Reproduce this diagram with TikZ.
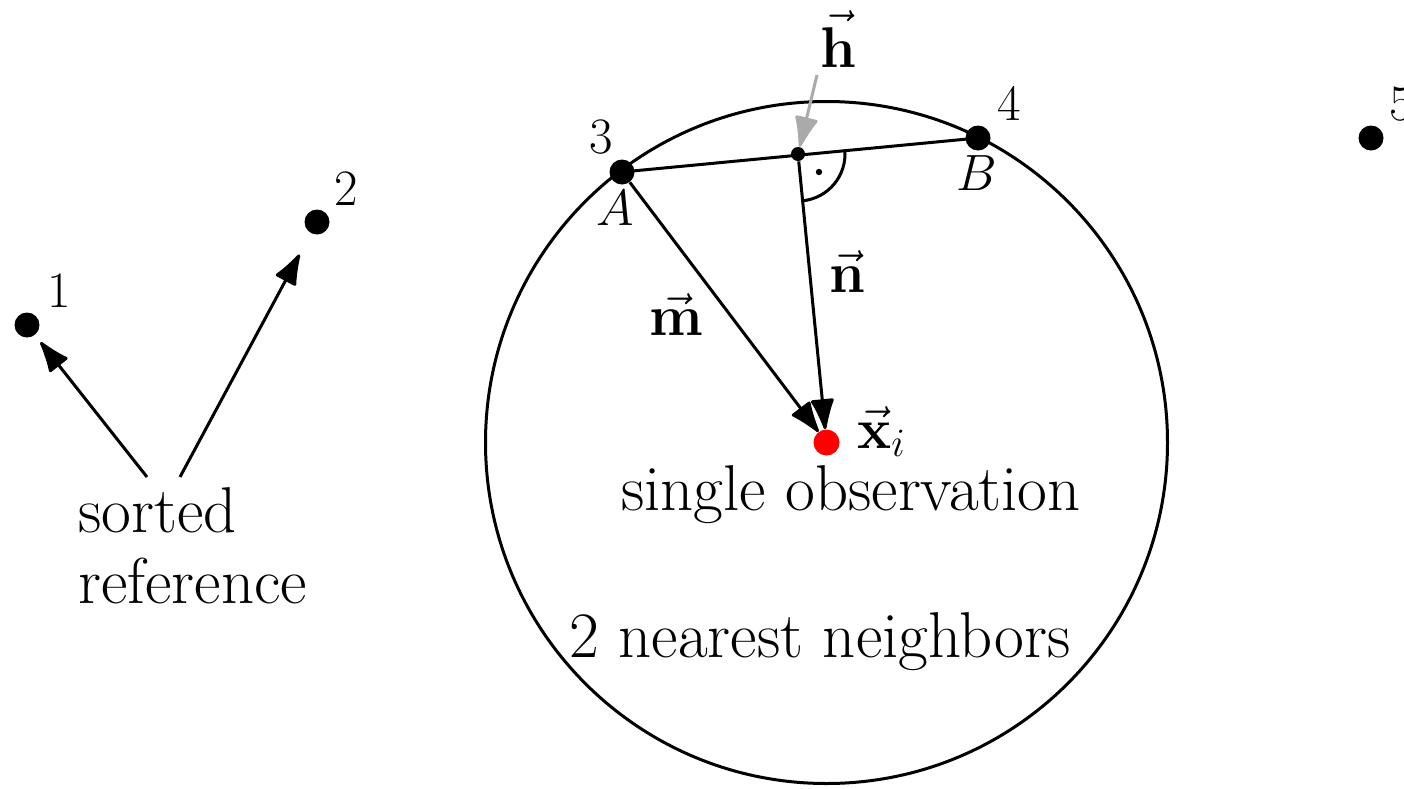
\documentclass[tikz,border=0pt]{standalone}
\usepackage{fix-cm}
\usepackage{amsmath}
\usetikzlibrary{arrows.meta,calc}
\definecolor{hgray}{RGB}{170,170,170}
\definecolor{obsred}{RGB}{255,0,0}
\newcommand{\mainsize}{\fontsize{32.4}{32.4}\selectfont}
\newcommand{\mathsize}{\fontsize{28.7}{28.7}\selectfont}
\newcommand{\labsize}{\fontsize{25.5}{25.5}\selectfont}
\tikzset{
  bigdot/.style={circle,fill=black,inner sep=0pt,minimum size=12.5pt},
  smalldot/.style={circle,fill=black,inner sep=0pt,minimum size=7pt},
  reddot/.style={circle,fill=obsred,inner sep=0pt,minimum size=13pt},
  numlab/.style={inner sep=0pt,anchor=base west,font=\labsize},
  txt/.style={inner sep=0pt,font=\mainsize},
  veclab/.style={inner sep=0pt,anchor=base west,font=\mathsize},
  vecarrow/.style={line width=1.5pt,-{Latex[length=17.5pt,width=12.5pt,round]}},
  thick line/.style={line width=1.5pt},
}
\begin{document}
\begin{tikzpicture}[x=0.5pt,y=-0.5pt]
\useasboundingbox (0,0) rectangle (1404,788);
% neighborhood circle
\draw[thick line] (826.5,442.5) circle[radius=170.5pt];
% points
\node[bigdot] (p1) at (27,325) {};
\node[bigdot] (p2) at (317,222) {};
\node[bigdot] (A) at (622,172) {};
\node[bigdot] (B) at (978,138) {};
\node[bigdot] (p5) at (1371,138) {};
\node[smalldot] (H) at (798,154) {};
\node[reddot] (X) at (826.5,442.5) {};
% labels
\node[numlab] at (47,307) {1};
\node[numlab] at (334,205) {2};
\node[numlab] at (589,153) {3};
\node[numlab] at (997,120) {4};
\node[numlab] at (1389,120) {5};
\node[numlab] at (596,225) {$A$};
\node[numlab] at (956,190) {$B$};
% sorted reference
\node[txt,anchor=base west,align=left] (sr) at (78,603) {sorted\\[3pt]reference};
\coordinate (s1) at (147,477);
\coordinate (s2) at (180,477);
\draw[vecarrow,shorten >=4.5pt] (s1) -- (p1);
\draw[vecarrow,shorten >=12pt] (s2) -- (p2);
% segment AB
\draw[thick line] (A.center) -- (B.center);
% right angle
\draw[thick line] ([shift={(5.1:23.5pt)}]H.center) arc[start angle=5.1,end angle=-84.4,radius=23.5pt];
\fill (819,172) circle[radius=1.6pt];
% vectors
\draw[vecarrow] (A) -- (X);
\draw[vecarrow] (H) -- (X);
\coordinate (ht) at (817,75);
\draw[line width=1.5pt,hgray,-{Latex[length=17.5pt,width=12.5pt,round]}] (ht) -- (H);
\node[veclab] at (820,67) {$\vec{\mathbf{h}}$};
\node[veclab] at (829,292) {$\vec{\mathbf{n}}$};
\node[veclab] at (649,335) {$\vec{\mathbf{m}}$};
\node[veclab] at (857,448) {$\vec{\mathbf{x}}_i$};
% texts
\node[txt,anchor=base] at (851,510) {single observation};
\node[txt,anchor=base] at (820,657) {2 nearest neighbors};
\end{tikzpicture}
\end{document}
